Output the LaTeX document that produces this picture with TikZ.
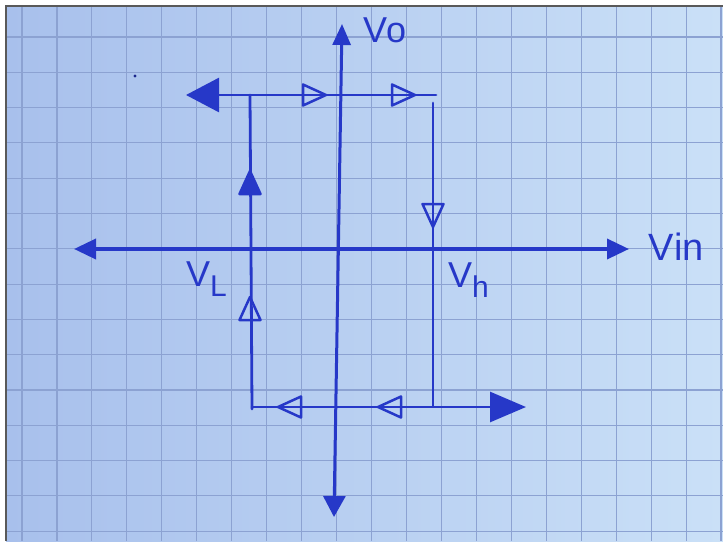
\documentclass[tikz,border=0pt]{standalone}
\usepackage{fontspec}
\setmainfont{Liberation Sans}
\usetikzlibrary{arrows.meta,shadings}
\definecolor{pen}{RGB}{38,56,200}
\definecolor{gridc}{RGB}{140,162,210}
\definecolor{paperL}{RGB}{168,192,236}
\definecolor{paperR}{RGB}{202,224,247}
\tikzset{
  ink/.style={draw=pen, line width=2.8pt, line cap=round, line join=round},
  axisline/.style={draw=pen, line width=3.6pt, line cap=round},
  gridline/.style={draw=gridc, line width=1.1pt},
  lbl/.style={text=pen, inner sep=0pt, font=\fontsize{36}{36}\selectfont},
  otri/.pic={\draw[pen, line width=2.5pt, line join=round, fill=#1] (0,0) -- (-23,10.5) -- (-23,-10.5) -- cycle;},
}
\begin{document}
\begin{tikzpicture}[x=1pt,y=-1pt]
\useasboundingbox (0,0) rectangle (723,541);
% paper
\fill[white] (0,0) rectangle (723,541);
\shade[left color=paperL, right color=paperR] (6,6) rectangle (723,541);
\draw[black!65, line width=1.6pt] (6,541) -- (6,6) -- (723,6);
% grid
\foreach \k in {0,...,20} {\draw[gridline] ({22+34.95*\k},7) -- ({22+34.95*\k},541);}
\foreach \k in {0,...,14} {\draw[gridline] (7,{37+35.3*\k}) -- (723,{37+35.3*\k});}
\fill[pen!70!black] (135,76) circle (1.6);
% coordinates
\coordinate (xl) at (74,249);
\coordinate (xr) at (629,249);
\coordinate (yt) at (342,24);
\coordinate (yb) at (334,517);
\coordinate (tl) at (186,95);
\coordinate (tr) at (436,95);
\coordinate (lt) at (250,95);
\coordinate (lb) at (252,409);
\coordinate (rt) at (433,103);
\coordinate (rb) at (433,406);
\coordinate (bl) at (252,407);
\coordinate (br) at (526,407);
% axes
\draw[axisline, {Triangle[length=22pt,width=20pt]}-{Triangle[length=22pt,width=20pt]}] (xl) -- (xr);
\draw[ink, line width=3pt, {Triangle[length=21pt,width=22pt]}-{Triangle[length=21pt,width=18pt]}] (yb) -- (yt);
% loop
\draw[ink, {Triangle[length=33pt,width=34pt]}-] (tl) -- (tr);
\draw[ink] (lt) -- (lb);
\draw[ink] (rt) -- (rb);
\draw[ink, -{Triangle[length=36pt,width=30pt]}] (bl) -- (br);
% direction marks
\pic[rotate=0] at (326,95) {otri=none};
\pic[rotate=0] at (415,95) {otri=none};
\pic[rotate=-90] at (433,227) {otri=none};
\pic[rotate=90] at (250,171) {otri=pen};
\pic[rotate=90] at (250,297) {otri=none};
\pic[rotate=180] at (278,407) {otri=none};
\pic[rotate=180] at (378,407) {otri=none};
% labels
\node[lbl, anchor=west] (lvo) at (363,30) {V\kern-1pt o};
\node[lbl, anchor=west, font=\fontsize{38}{38}\selectfont] (lvin) at (648,247) {V\kern1pt in};
\node[lbl, anchor=west] (lvl) at (186,279) {V\raisebox{-10pt}{\fontsize{30}{30}\selectfont L}};
\node[lbl, anchor=west] (lvh) at (448,280) {V\raisebox{-10pt}{\fontsize{30}{30}\selectfont h}};
\end{tikzpicture}
\end{document}
